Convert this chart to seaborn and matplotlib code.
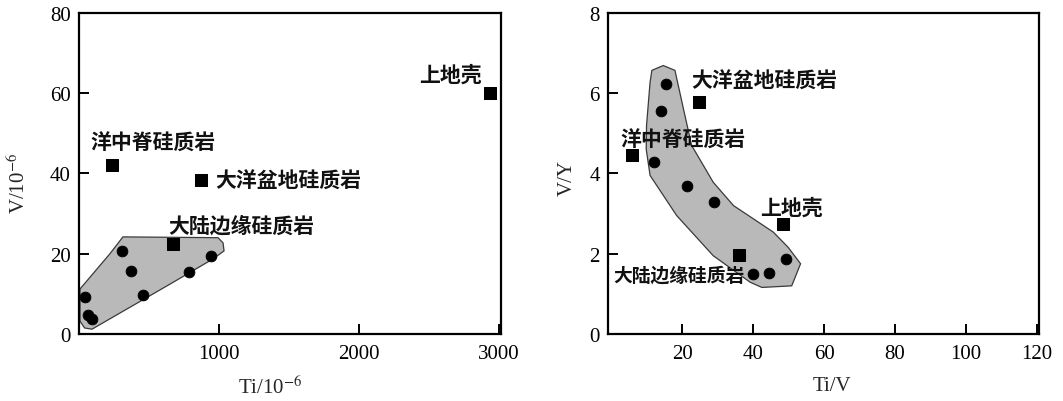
import matplotlib
matplotlib.use("Agg")
import matplotlib.pyplot as plt
import seaborn as sns
import pandas as pd
from matplotlib.patches import Polygon

# ---------------- data ----------------
# Left panel: Ti (10^-6) vs V (10^-6)
ref_names = ["上地壳", "洋中脊硅质岩", "大洋盆地硅质岩", "大陆边缘硅质岩"]
left_ref_ti = [2936, 236, 871, 671]
left_ref_v = [60, 42, 38.5, 22.5]
left_smp_ti = [43, 65, 95, 309, 371, 459, 783, 943]
left_smp_v = [9.2, 4.8, 3.8, 20.7, 15.6, 9.8, 15.4, 19.5]
left_field_x = [7, 40, 93, 629, 957, 1036, 1029, 993, 314, 221, 7]
left_field_y = [3.2, 1.5, 1.2, 12, 18.7, 20.7, 22.7, 24, 24.2, 20, 11.2]
left_label_x = [2879, 79, 971, 636]
left_label_y = [64.8, 47.9, 38.2, 27.2]
left_label_ha = ["right", "left", "left", "left"]

# Right panel: Ti/V vs V/Y
right_ref_tiv = [48.4, 5.8, 24.9, 36.1]
right_ref_vy = [2.75, 4.45, 5.78, 1.98]
right_smp_tiv = [15.4, 14.0, 12.2, 21.4, 29.0, 49.2, 40.1, 44.6]
right_smp_vy = [6.22, 5.56, 4.28, 3.68, 3.30, 1.88, 1.50, 1.52]
right_field_x = [11.5, 14.7, 18.0, 20.4, 22.7, 28.8, 34.5, 45.7, 49.9, 53.4,
                 50.9, 42.5, 39.2, 28.8, 18.5, 11.0, 9.9, 10.0, 11.0]
right_field_y = [6.57, 6.69, 6.57, 5.61, 4.70, 3.78, 3.2, 2.54, 2.16, 1.75,
                 1.2, 1.16, 1.29, 1.95, 2.95, 3.95, 4.61, 5.2, 6.28]
right_label_x = [42.0, 2.5, 22.7, 0.6]
right_label_y = [3.16, 4.86, 6.32, 1.48]

left_xticks = [1000, 2000, 3000]
left_yticks = [0, 20, 40, 60, 80]
right_xticks = [20, 40, 60, 80, 100, 120]
right_yticks = [0, 2, 4, 6, 8]

# ---------------- style ----------------
sns.set_theme(style="white")
plt.rcParams["font.family"] = ["Liberation Serif", "Noto Sans CJK SC", "DejaVu Sans"]
plt.rcParams["mathtext.fontset"] = "stix"

fig = plt.figure(figsize=(10.63, 4.02), dpi=100)
axL = fig.add_axes([0.0743, 0.1667, 0.397, 0.7985])
axR = fig.add_axes([0.572, 0.1667, 0.4055, 0.7985])

cjk = ["Noto Sans CJK SC", "DejaVu Sans"]
field_face = "#b9b9b9"
field_edge = "#3a3a3a"


def draw_panel(ax, fx, fy, sx, sy, rx, ry, lx, ly, has, fs_list):
    poly = Polygon(list(zip(fx, fy)), closed=True, facecolor=field_face,
                   edgecolor=field_edge, linewidth=0.9, zorder=1)
    ax.add_patch(poly)
    smp = pd.DataFrame({"x": sx, "y": sy})
    ref = pd.DataFrame({"x": rx, "y": ry})
    sns.scatterplot(data=smp, x="x", y="y", ax=ax, marker="o", s=60,
                    color="black", edgecolor="black", zorder=3, legend=False)
    sns.scatterplot(data=ref, x="x", y="y", ax=ax, marker="s", s=85,
                    color="black", edgecolor="black", zorder=3, legend=False)
    for name, x, y, ha, fs in zip(ref_names, lx, ly, has, fs_list):
        ax.text(x, y, name, ha=ha, va="center", fontsize=fs, fontweight="bold",
                family=cjk, color="#111111", zorder=4)
    for sp in ax.spines.values():
        sp.set_linewidth(1.6)
        sp.set_color("black")
    ax.tick_params(direction="in", length=7, width=1.4, colors="black",
                   labelsize=15, top=False, right=False, bottom=True, left=True)
    ax.tick_params(axis="y", pad=6)
    ax.tick_params(axis="x", pad=7)


draw_panel(axL, left_field_x, left_field_y, left_smp_ti, left_smp_v,
           left_ref_ti, left_ref_v, left_label_x, left_label_y,
           left_label_ha, [15, 15, 15, 15])
axL.set_xlim(0, 3014)
axL.set_ylim(0, 80)
axL.set_xticks(left_xticks)
axL.set_yticks(left_yticks)
axL.set_xlabel(r"Ti/10$^{-6}$", fontsize=15)
axL.set_ylabel(r"V/10$^{-6}$", fontsize=15)
axL.xaxis.label.set_va("center")
axL.yaxis.label.set_va("center")
axL.xaxis.set_label_coords(0.453, -0.165)
axL.yaxis.set_label_coords(-0.142, 0.473)

draw_panel(axR, right_field_x, right_field_y, right_smp_tiv, right_smp_vy,
           right_ref_tiv, right_ref_vy, right_label_x, right_label_y,
           ["left"] * 4, [15, 15, 15, 13.5])
axR.set_xlim(-0.85, 120.6)
axR.set_ylim(0, 8)
axR.set_xticks(right_xticks)
axR.set_yticks(right_yticks)
axR.set_xlabel("Ti/V", fontsize=15)
axR.set_ylabel("V/Y", fontsize=15)
axR.xaxis.label.set_va("center")
axR.yaxis.label.set_va("center")
axR.xaxis.set_label_coords(0.52, -0.159)
axR.yaxis.set_label_coords(-0.095, 0.489)

fig.savefig("out.png", dpi=100)
